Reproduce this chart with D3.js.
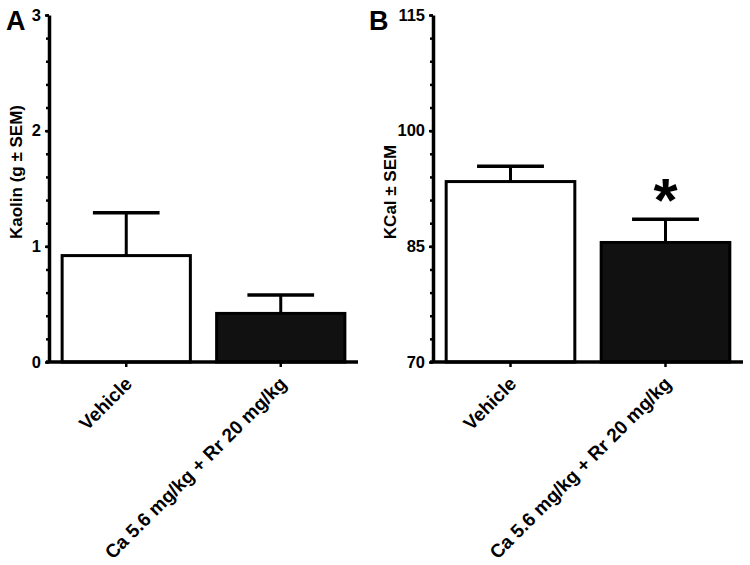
<!DOCTYPE html>
<html>
<head>
<meta charset="utf-8">
<script src="https://cdn.jsdelivr.net/npm/d3@7"></script>
<style>
  html, body { margin: 0; padding: 0; background: #fff; }
  svg { display: block; font-family: "Liberation Sans", Arial, sans-serif; }
</style>
</head>
<body>
<svg id="chart" width="750" height="565"></svg>
<script>
// ---- data ----
const categories = ["Vehicle", "Ca 5.6 mg/kg + Rr 20 mg/kg"];
const kaolinMeans = [0.92, 0.42];
const kaolinSEM = [0.37, 0.16];
const kcalMeans = [93.4, 85.5];
const kcalSEM = [2.0, 3.0];
const kaolinTicks = [0, 1, 2, 3];
const kcalTicks = [70, 85, 100, 115];
const kcalSignificant = [false, true];
const barFills = ["#ffffff", "#111111"];

const svg = d3.select("#chart");

function panel(opts) {
  const g = svg.append("g");
  const y = d3.scaleLinear().domain(opts.domain).range([362, 15]);
  const x = d3.scaleBand().domain(categories).range([opts.axisX, opts.axisX + opts.width])
    .paddingInner(0.17).paddingOuter(0.085);

  const rows = categories.map((c, i) => ({ c, v: opts.means[i], e: opts.sem[i], fill: barFills[i], sig: opts.sig ? opts.sig[i] : false }));

  // bars
  g.selectAll("rect.bar").data(rows).join("rect")
    .attr("class", "bar")
    .attr("x", d => x(d.c))
    .attr("width", x.bandwidth())
    .attr("y", d => y(d.v))
    .attr("height", d => y(opts.domain[0]) - y(d.v))
    .attr("fill", d => d.fill)
    .attr("stroke", "#000")
    .attr("stroke-width", 3);

  // error bars (upper only)
  const capHalf = x.bandwidth() * 0.26;
  g.selectAll("line.err").data(rows).join("line")
    .attr("class", "err")
    .attr("x1", d => x(d.c) + x.bandwidth() / 2)
    .attr("x2", d => x(d.c) + x.bandwidth() / 2)
    .attr("y1", d => y(d.v))
    .attr("y2", d => y(d.v + d.e))
    .attr("stroke", "#000").attr("stroke-width", 3);
  g.selectAll("line.cap").data(rows).join("line")
    .attr("class", "cap")
    .attr("x1", d => x(d.c) + x.bandwidth() / 2 - capHalf)
    .attr("x2", d => x(d.c) + x.bandwidth() / 2 + capHalf)
    .attr("y1", d => y(d.v + d.e))
    .attr("y2", d => y(d.v + d.e))
    .attr("stroke", "#000").attr("stroke-width", 3.5);

  // significance
  g.selectAll("text.sig").data(rows.filter(d => d.sig)).join("text")
    .attr("class", "sig")
    .attr("x", d => x(d.c) + x.bandwidth() / 2)
    .attr("y", d => y(d.v + d.e) + 2)
    .attr("text-anchor", "middle")
    .attr("font-size", 62)
    .attr("font-weight", "bold")
    .text("*");

  // y axis: minor ticks
  const step = (opts.ticks[1] - opts.ticks[0]) / 5;
  const minor = d3.range(opts.domain[0], opts.domain[1] + step / 2, step);
  const yMinor = g.append("g").attr("transform", `translate(${opts.axisX},0)`)
    .call(d3.axisLeft(y).tickValues(minor).tickSize(3).tickFormat(""));
  yMinor.select(".domain").remove();
  yMinor.selectAll(".tick line").attr("stroke", "#000").attr("stroke-width", 2.5);

  // y axis: major
  const yAx = g.append("g").attr("transform", `translate(${opts.axisX},0)`)
    .call(d3.axisLeft(y).tickValues(opts.ticks).tickSize(4).tickPadding(4).tickSizeOuter(0)
      .tickFormat(d3.format("d")));
  yAx.select(".domain").attr("stroke", "#000").attr("stroke-width", 3.5);
  yAx.selectAll(".tick line").attr("stroke", "#000").attr("stroke-width", 2.5);
  yAx.selectAll(".tick text").attr("font-size", 16.5).attr("font-weight", "bold").attr("fill", "#000")
    .attr("font-family", "Liberation Sans, Arial, sans-serif");

  // x axis
  const xAx = g.append("g").attr("transform", `translate(0,362)`)
    .call(d3.axisBottom(x).tickSize(5).tickSizeOuter(0).tickFormat(""));
  xAx.select(".domain").remove();
  xAx.selectAll(".tick line").attr("stroke", "#000").attr("stroke-width", 2.5);
  g.append("line")
    .attr("x1", opts.axisX - 3).attr("x2", opts.axisX + opts.width)
    .attr("y1", 362).attr("y2", 362)
    .attr("stroke", "#000").attr("stroke-width", 3.5);

  // x labels rotated
  g.selectAll("text.xl").data(categories).join("text")
    .attr("class", "xl")
    .attr("transform", d => `translate(${x(d) + x.bandwidth() / 2 + 7},${385}) rotate(-45)`)
    .attr("text-anchor", "end")
    .attr("font-size", 19)
    .attr("font-weight", "bold")
    .attr("fill", "#000")
    .text(d => d);

  // y title
  g.append("text")
    .attr("transform", `translate(${opts.titleX},${opts.titleY}) rotate(-90)`)
    .attr("text-anchor", "middle")
    .attr("font-size", 17)
    .attr("font-weight", "bold")
    .text(opts.title);

  // panel letter
  g.append("text")
    .attr("x", opts.letterX).attr("y", 30)
    .attr("font-size", 27)
    .attr("font-weight", "bold")
    .text(opts.letter);
}

panel({ domain: [0, 3], ticks: kaolinTicks, means: kaolinMeans, sem: kaolinSEM,
        axisX: 49, width: 309, title: "Kaolin (g ± SEM)", titleX: 22, titleY: 172,
        letter: "A", letterX: 6 });
panel({ domain: [70, 115], ticks: kcalTicks, means: kcalMeans, sem: kcalSEM, sig: kcalSignificant,
        axisX: 433, width: 310, title: "KCal ± SEM", titleX: 396, titleY: 192,
        letter: "B", letterX: 369 });
</script>
</body>
</html>
